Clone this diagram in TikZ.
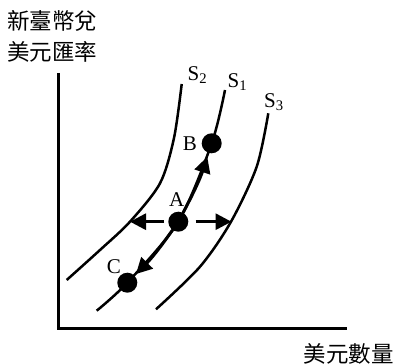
\documentclass[tikz,border=0pt]{standalone}
\usepackage{fontspec}
\setmainfont{Liberation Serif}
\newfontfamily\cjk{Noto Sans CJK TC}
\usetikzlibrary{arrows.meta}
\begin{document}
\begin{tikzpicture}[
  x=1pt, y=1pt,
  axis/.style={line width=2.8pt},
  curve/.style={line width=2.5pt},
  dot/.style={circle, fill, inner sep=0pt, minimum size=20pt},
  move/.style={line width=3pt, -{Triangle[length=16pt,width=16pt]}},
  lbl/.style={font=\fontsize{21}{21}\selectfont, inner sep=0pt},
  slbl/.style={font=\fontsize{21}{21}\selectfont, inner sep=0pt},
  cjklbl/.style={font=\cjk\fontsize{22.5}{31.5}\selectfont, inner sep=0pt, align=left}
]
\useasboundingbox (0,0) rectangle (394,364);

% axes
\coordinate (top) at (58.3,291);
\coordinate (origin) at (58.3,35.7);
\coordinate (right) at (347,35.7);
\draw[axis] (top) -- (origin) -- (right);

\node[cjklbl, anchor=north west] (ylabel) at (7,354) {新臺幣兌\\美元匯率};
\node[cjklbl, anchor=north east] (xlabel) at (394,21) {美元數量};

% supply curves
\draw[curve] plot[smooth] coordinates {(66.7,84) (100,114) (130,142.3) (160,180.7) (174,226) (181.7,280)};
\draw[curve] plot[smooth] coordinates {(96.7,53.3) (127.3,81.3) (178.3,142.3) (211.7,220.7) (225,274)};
\draw[curve] plot[smooth] coordinates {(156,54.7) (200,97.3) (231,142.3) (256.7,197.3) (268.3,250.7)};

\node[slbl] (s2) at (197.5,289) {S\textsubscript{2}};
\node[slbl] (s1) at (237.5,282.3) {S\textsubscript{1}};
\node[slbl] (s3) at (274,262.3) {S\textsubscript{3}};

% points
\node[dot] (A) at (178.3,142.3) {};
\node[dot] (B) at (211.7,220.7) {};
\node[dot] (C) at (127.3,81.3) {};
\node[lbl] (la) at (176.7,164) {A};
\node[lbl] (lb) at (190,220.5) {B};
\node[lbl] (lc) at (114,97) {C};

\coordinate (onS2) at (130,142.3);
\coordinate (onS3) at (231.5,142.3);

\draw[move, shorten <=4pt] (A) -- (onS2);
\draw[move, shorten <=7pt] (A) -- (onS3);
\draw[move, shorten >=4pt] (A) to[bend right=5] (B);
\draw[move, shorten >=2pt] (A) to[bend left=5] (C);
\end{tikzpicture}
\end{document}
